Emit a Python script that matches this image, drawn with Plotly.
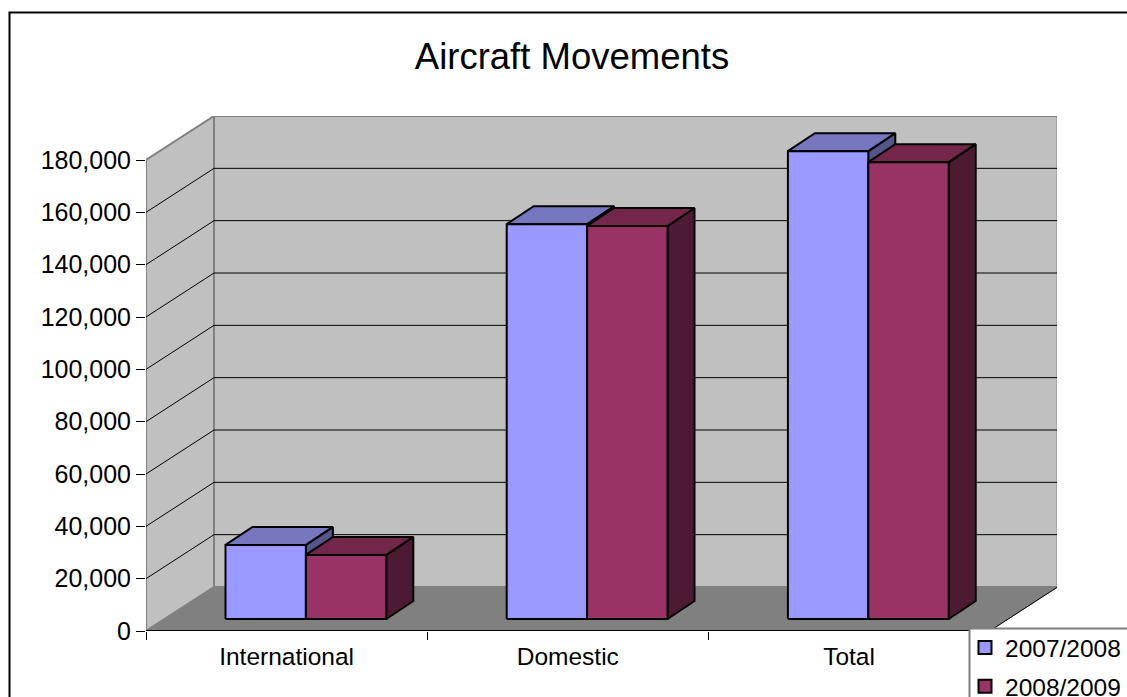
import plotly.graph_objects as go

# ---- data ----
categories = ["International", "Domestic", "Total"]
series_names = ["2007/2008", "2008/2009"]
values_2007 = [28300, 150900, 178800]
values_2008 = [24500, 150200, 174600]
y_ticks = [0, 20000, 40000, 60000, 80000, 100000, 120000, 140000, 160000, 180000]

# ---- pseudo-3D styling ----
W, H = 1127, 697
L, R, T, B = 146, 1057, 116, 631      # plot area in px (front-left to back-right)
CAT_PX = 281.2                         # px per category
VAL_PX = 471 / 180000                  # px per unit of value
px_x = lambda p: p / CAT_PX
px_y = lambda p: p / VAL_PX

WALL_DX, WALL_DY = px_x(68), px_y(44)   # depth of the whole box
BAR_DX, BAR_DY = px_x(27), px_y(18)     # depth of a bar
OFF_DX, OFF_DY = px_x(18.5), px_y(12)   # bars stand inside the floor
BAR_W = px_x(80.4)
GAP = px_x(61)
N = len(categories)
Y_MAX = y_ticks[-1]

GRID = "#000000"
WALL = "#c0c0c0"
FLOOR = "#808080"
colors = [
    dict(front="#9999ff", top="#7777bf", side="#55558a"),
    dict(front="#993366", top="#732649", side="#4d1a33"),
]
FONT = "Liberation Sans, Arial, sans-serif"

fig = go.Figure()


def poly(xs, ys, fill=None, line="#000000", width=2):
    fig.add_trace(go.Scatter(
        x=xs, y=ys, mode="lines", fill="toself" if fill else "none",
        fillcolor=fill, line=dict(color=line, width=width),
        hoverinfo="skip", showlegend=False, cliponaxis=False,
    ))


# walls and floor
poly([0, WALL_DX, WALL_DX, 0, 0], [0, WALL_DY, Y_MAX + WALL_DY, Y_MAX, 0], WALL, FLOOR, 2)
poly([WALL_DX, N + WALL_DX, N + WALL_DX, WALL_DX, WALL_DX],
     [WALL_DY, WALL_DY, Y_MAX + WALL_DY, Y_MAX + WALL_DY, WALL_DY], WALL, FLOOR, 2)
poly([0, WALL_DX, N + WALL_DX, N, 0], [0, WALL_DY, WALL_DY, 0, 0], FLOOR, FLOOR, 1)

# gridlines on side and back wall
for v in y_ticks[1:-1]:
    poly([0, WALL_DX, N + WALL_DX], [v, v + WALL_DY, v + WALL_DY], None, GRID, 1)

# floor edges
poly([N + WALL_DX, N], [WALL_DY, 0], None, "#000000", 1)
poly([0, N], [0, 0], None, "#000000", 2)

# bars (painter's order)
for c in range(N):
    for s, vals in enumerate([values_2007, values_2008]):
        v = vals[c]
        col = colors[s]
        x0 = c + OFF_DX + GAP + s * BAR_W
        x1 = x0 + BAR_W
        y0 = OFF_DY
        y1 = OFF_DY + v
        poly([x1, x1 + BAR_DX, x1 + BAR_DX, x1, x1],
             [y0, y0 + BAR_DY, y1 + BAR_DY, y1, y0], col["side"])
        poly([x0, x0 + BAR_DX, x1 + BAR_DX, x1, x0],
             [y1, y1 + BAR_DY, y1 + BAR_DY, y1, y1], col["top"])
        poly([x0, x1, x1, x0, x0], [y0, y0, y1, y1, y0], col["front"])

# legend entries
for s, name in enumerate(series_names):
    fig.add_trace(go.Scatter(
        x=[None], y=[None], mode="markers", name=name, legendgroup=name,
        marker=dict(symbol="square", size=13, color=colors[s]["front"],
                    line=dict(color="#000000", width=2)),
    ))

paper_x = lambda p: (p - L) / (R - L)
paper_y = lambda p: (B - p) / (B - T)

fig.update_layout(
    width=W, height=H,
    margin=dict(l=L, r=W - R, t=T, b=H - B, pad=0, autoexpand=False),
    paper_bgcolor="#ffffff", plot_bgcolor="rgba(0,0,0,0)",
    font=dict(family=FONT, size=25, color="#000000"),
    title=dict(text="Aircraft Movements", x=572 / W, xanchor="center",
               y=1 - 56 / H, yanchor="middle",
               font=dict(family=FONT, size=36.5, color="#000000")),
    xaxis=dict(
        range=[0, (R - L) / CAT_PX], showgrid=False, zeroline=False, showline=False,
        tickmode="array", tickvals=[i + 0.5 for i in range(N)], ticktext=categories,
        ticks="outside", ticklen=4, tickcolor="rgba(0,0,0,0)",
        tickfont=dict(size=24.5),
        minor=dict(tickmode="array", tickvals=list(range(N + 1)), ticks="outside",
                   ticklen=8, tickcolor="#000000", tickwidth=1, showgrid=False),
    ),
    yaxis=dict(
        range=[0, (B - T) / VAL_PX], showgrid=False, zeroline=False, showline=False,
        tickmode="array", tickvals=y_ticks, tickformat=",",
        ticks="outside", ticklen=9, tickcolor="#000000", tickwidth=1,
    ),
    legend=dict(
        x=paper_x(965), xanchor="left",
        y=paper_y(625), yanchor="top",
        bgcolor="rgba(0,0,0,0)", borderwidth=0,
        font=dict(size=24.5), tracegroupgap=4, itemclick=False, itemdoubleclick=False,
    ),
    shapes=[
        dict(type="rect", xref="paper", yref="paper",
             x0=paper_x(9.5), x1=paper_x(1150), y0=paper_y(720), y1=paper_y(12.5),
             line=dict(color="#000000", width=2), layer="above"),
        dict(type="rect", xref="paper", yref="paper",
             x0=paper_x(969.5), x1=paper_x(1150), y0=paper_y(720), y1=paper_y(628.5),
             fillcolor="#ffffff", line=dict(color="#808080", width=2), layer="above"),
    ],
)

fig.write_html("out.html", config={"displayModeBar": False, "responsive": False},
               post_script="document.body.style.margin='0';document.body.style.overflow='hidden';")
